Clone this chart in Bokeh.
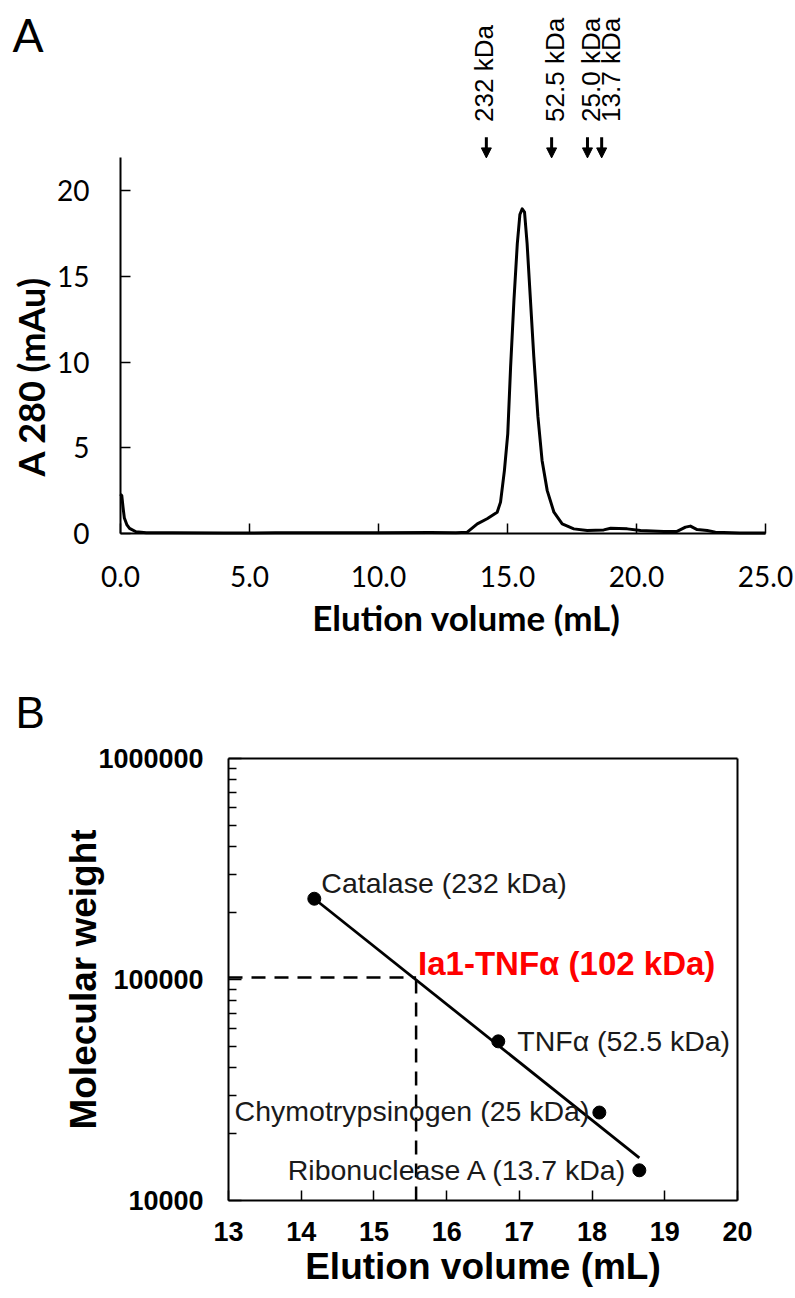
from bokeh.plotting import figure
from bokeh.layouts import column
from bokeh.models import (Range1d, FixedTicker, PrintfTickFormatter, Label, Arrow, NormalHead,
                          LinearAxis, LogAxis)
from bokeh.embed import file_html
from bokeh.resources import INLINE
import math

# ---------------- data ----------------
# Panel A: size-exclusion chromatogram
elution_ml = [0.0, 0.05, 0.1, 0.15, 0.25, 0.35, 0.6, 1.0, 2.0, 4.0, 6.0, 8.0, 10.0, 12.0, 13.0,
              13.44, 13.83, 14.21, 14.60, 14.73, 14.88, 15.01, 15.12, 15.25, 15.38, 15.48, 15.57,
              15.66, 15.76, 15.89, 16.02, 16.18, 16.34, 16.54, 16.80, 17.12, 17.57, 18.09, 18.73,
              19.0, 19.64, 20.16, 21.06, 21.57, 21.9, 22.09, 22.35, 22.74, 23.06, 24.0, 25.0]
a280_mau = [2.3, 2.2, 1.5, 0.9, 0.5, 0.3, 0.1, 0.05, 0.04, 0.03, 0.04, 0.05, 0.05, 0.06, 0.05,
            0.08, 0.56, 0.86, 1.24, 1.83, 3.67, 5.81, 9.7, 13.6, 16.9, 18.6, 18.93,
            18.74, 16.9, 13.6, 10.3, 6.8, 4.26, 2.5, 1.24, 0.56, 0.27, 0.17, 0.21,
            0.31, 0.27, 0.17, 0.12, 0.12, 0.37, 0.43, 0.23, 0.17, 0.08, 0.03, 0.03]
a_xticks = [0, 5, 10, 15, 20, 25]
a_yticks = [0, 5, 10, 15, 20]
a_xlim = (0, 25)
a_ylim = (0, 21.9)

# Standards
standard_ve = [14.18, 16.71, 18.10, 18.65]
standard_mw = [232000, 52500, 25000, 13700]
standard_kda = ["232 kDa", "52.5 kDa", "25.0 kDa", "13.7 kDa"]
standard_labels = ["Catalase (232 kDa)", "TNF\u03b1 (52.5 kDa)",
                   "Chymotrypsinogen  (25 kDa)", "Ribonuclease A (13.7 kDa)"]

# Panel B: calibration line and sample
fit_ve = [14.18, 18.65]
fit_mw = [232000, 15600]
sample_ve = 15.58
sample_mw = 102000
sample_label = "Ia1-TNF\u03b1 (102 kDa)"
b_xticks = [13, 14, 15, 16, 17, 18, 19, 20]
b_yticks = [10000, 100000, 1000000]
b_yminor = [20000, 30000, 40000, 50000, 60000, 70000, 80000, 90000,
            200000, 300000, 400000, 500000, 600000, 700000, 800000, 900000]
b_xlim = (13, 20)
b_ylim = (10000, 1000000)

# ---------------- layout / style ----------------
A_FONT = "Lato"
B_FONT = "Liberation Sans"
W = 795
HA, HB = 658, 640
# panel A pixel anchors (x=0 -> 120px, x=25 -> 765px, y=0 -> 533px, y=20 -> 190px)
ax_px = (120, 765)
ay_px = (533, 190)
# panel B pixel anchors (x=13 -> 228px, x=20 -> 737px, 1e4 -> 542px, 1e6 -> 100px)
bx_px = (228, 737)
by_px = (542, 100)
arrow_label_dx = [-2, 3, 4, 9]
b_label_dx = [7, 19, -2, -11]
b_label_dy = [16, 0, 2, 0]
b_label_align = ["left", "left", "right", "right"]

# ---------------- panel A ----------------
xs = (a_xlim[1] - a_xlim[0]) / (ax_px[1] - ax_px[0])
ys = (a_yticks[-1] - 0) / (ay_px[0] - ay_px[1])
a_xr = Range1d(a_xlim[0] - ax_px[0] * xs, a_xlim[1] + (W - ax_px[1]) * xs)
a_yr = Range1d(0 - (HA - ay_px[0]) * ys, 0 + ay_px[0] * ys)
pA = figure(width=W, height=HA, x_range=a_xr, y_range=a_yr,
            output_backend="svg", toolbar_location=None, x_axis_location=None,
            y_axis_location=None, min_border=0, min_border_left=0, min_border_right=0,
            min_border_top=0, min_border_bottom=0)
pA.outline_line_color = None
pA.grid.grid_line_color = None
pA.background_fill_color = "white"
pA.border_fill_color = "white"

pA.line(elution_ml, a280_mau, line_color="black", line_width=3, line_join="round")

xa = LinearAxis(fixed_location=a_ylim[0], bounds=a_xlim,
                ticker=FixedTicker(ticks=a_xticks, minor_ticks=[]),
                formatter=PrintfTickFormatter(format="%.1f"))
ya = LinearAxis(fixed_location=a_xlim[0], bounds=a_ylim,
                ticker=FixedTicker(ticks=a_yticks, minor_ticks=[]))
pA.add_layout(xa, "below")
pA.add_layout(ya, "left")
for ax in (xa, ya):
    ax.axis_line_width = 2
    ax.axis_line_color = "black"
    ax.major_tick_in = 10
    ax.major_tick_out = 0
    ax.major_tick_line_width = 1.5
    ax.major_tick_line_color = "black"
    ax.minor_tick_line_color = None
    ax.major_label_text_font = A_FONT
    ax.major_label_text_font_size = "28px"
    ax.major_label_text_color = "black"
xa.major_label_standoff = 32
ya.major_label_standoff = 31

# axis titles of panel A (placed as labels, as in the original they are off-centre)
pA.add_layout(Label(x=13.41, y=-4.87, text="Elution volume (mL)", text_align="center",
                    text_baseline="middle", text_font=A_FONT, text_font_size="35px",
                    text_font_style="bold", text_color="black"))
pA.add_layout(Label(x=-3.45, y=9.15, text="A 280 (mAu)", angle=90, angle_units="deg",
                    text_align="center", text_baseline="middle", text_font=A_FONT,
                    text_font_size="36px", text_font_style="bold", text_color="black"))

# arrows + labels for standards
for ve, txt, dx in zip(standard_ve, standard_kda, arrow_label_dx):
    pA.add_layout(Arrow(end=NormalHead(size=10, fill_color="black", line_color="black", line_width=1),
                        x_start=ve, y_start=23.1, x_end=ve, y_end=21.9,
                        line_width=3, line_color="black"))
    pA.add_layout(Label(x=ve, y=24.0, x_units="data", y_units="data", text=txt, angle=90,
                        angle_units="deg", text_align="left", text_baseline="middle",
                        x_offset=dx, text_font=B_FONT, text_font_size="26px", text_color="black"))

pA.add_layout(Label(x=-4.19, y=29.1, text="A", text_align="left", text_baseline="alphabetic",
                    text_font=A_FONT, text_font_size="46px", text_color="black"))

# ---------------- panel B ----------------
bxs = (b_xlim[1] - b_xlim[0]) / (bx_px[1] - bx_px[0])
dec = (math.log10(b_ylim[1]) - math.log10(b_ylim[0])) / (by_px[0] - by_px[1])
b_xr = Range1d(b_xlim[0] - bx_px[0] * bxs, b_xlim[1] + (W - bx_px[1]) * bxs)
b_yr = Range1d(10 ** (math.log10(b_ylim[0]) - (HB - by_px[0]) * dec),
               10 ** (math.log10(b_ylim[1]) + by_px[1] * dec))
pB = figure(width=W, height=HB, x_range=b_xr, y_range=b_yr, y_axis_type="log",
            output_backend="svg", toolbar_location=None, x_axis_location=None,
            y_axis_location=None, min_border=0, min_border_left=0, min_border_right=0,
            min_border_top=0, min_border_bottom=0)
pB.grid.grid_line_color = None
pB.outline_line_color = None
pB.background_fill_color = "white"
pB.border_fill_color = "white"

pB.line([b_xlim[0], sample_ve], [sample_mw, sample_mw], line_color="black", line_width=2.5,
        line_dash="14 9")
pB.line([sample_ve, sample_ve], [b_ylim[0], sample_mw], line_color="black", line_width=2.5,
        line_dash="14 9")
pB.line(fit_ve, fit_mw, line_color="black", line_width=2.8)
pB.scatter(standard_ve, standard_mw, size=13, color="black")

xb = LinearAxis(fixed_location=b_ylim[0], bounds=b_xlim,
                ticker=FixedTicker(ticks=b_xticks, minor_ticks=[]))
yb = LogAxis(fixed_location=b_xlim[0], bounds=b_ylim,
             ticker=FixedTicker(ticks=b_yticks, minor_ticks=b_yminor),
             formatter=PrintfTickFormatter(format="%d"))
rb = LogAxis(fixed_location=b_xlim[1], bounds=b_ylim, ticker=FixedTicker(ticks=[], minor_ticks=[]))
tb = LinearAxis(fixed_location=b_ylim[1], bounds=b_xlim, ticker=FixedTicker(ticks=[], minor_ticks=[]))
pB.add_layout(xb, "below")
pB.add_layout(yb, "left")
pB.add_layout(rb, "right")
pB.add_layout(tb, "above")
for ax in (rb, tb):
    ax.axis_line_width = 2
    ax.axis_line_color = "black"
    ax.major_tick_line_color = None
    ax.minor_tick_line_color = None
for ax in (xb, yb):
    ax.axis_line_width = 2
    ax.axis_line_color = "black"
    ax.major_tick_in = 10
    ax.major_tick_out = 0
    ax.major_tick_line_width = 1.5
    ax.major_tick_line_color = "black"
    ax.minor_tick_in = 8
    ax.minor_tick_out = 0
    ax.minor_tick_line_width = 1.5
    ax.minor_tick_line_color = "black"
    ax.major_label_text_font = B_FONT
    ax.major_label_text_font_size = "27px"
    ax.major_label_text_font_style = "bold"
    ax.major_label_text_color = "black"
    ax.axis_label_text_font = B_FONT
    ax.axis_label_text_font_size = "37px"
    ax.axis_label_text_font_style = "bold"
    ax.axis_label_text_color = "black"
yb.major_tick_in = 13
xb.axis_label = "Elution volume (mL)"
xb.major_label_standoff = 21
xb.axis_label_standoff = 2
yb.axis_label = "Molecular weight"
yb.major_label_standoff = 25
yb.axis_label_standoff = -9

for ve, mw, txt, dx, dy, al in zip(standard_ve, standard_mw, standard_labels,
                                   b_label_dx, b_label_dy, b_label_align):
    pB.add_layout(Label(x=ve, y=mw, text=txt, x_offset=dx, y_offset=dy, text_align=al,
                        text_baseline="middle", text_font=B_FONT, text_font_size="28.5px",
                        text_color="#1a1a1a"))

pB.add_layout(Label(x=sample_ve, y=sample_mw, text=sample_label, x_offset=2, y_offset=14,
                    text_align="left", text_baseline="middle", text_font=B_FONT,
                    text_font_size="33px", text_font_style="bold", text_color="#ff0000"))

pB.add_layout(Label(x=10.07, y=1614000, text="B", text_align="left", text_baseline="alphabetic",
                    text_font=B_FONT, text_font_size="44px", text_color="black"))

layout = column(pA, pB)
open("out.html", "w").write(file_html(layout, INLINE))
